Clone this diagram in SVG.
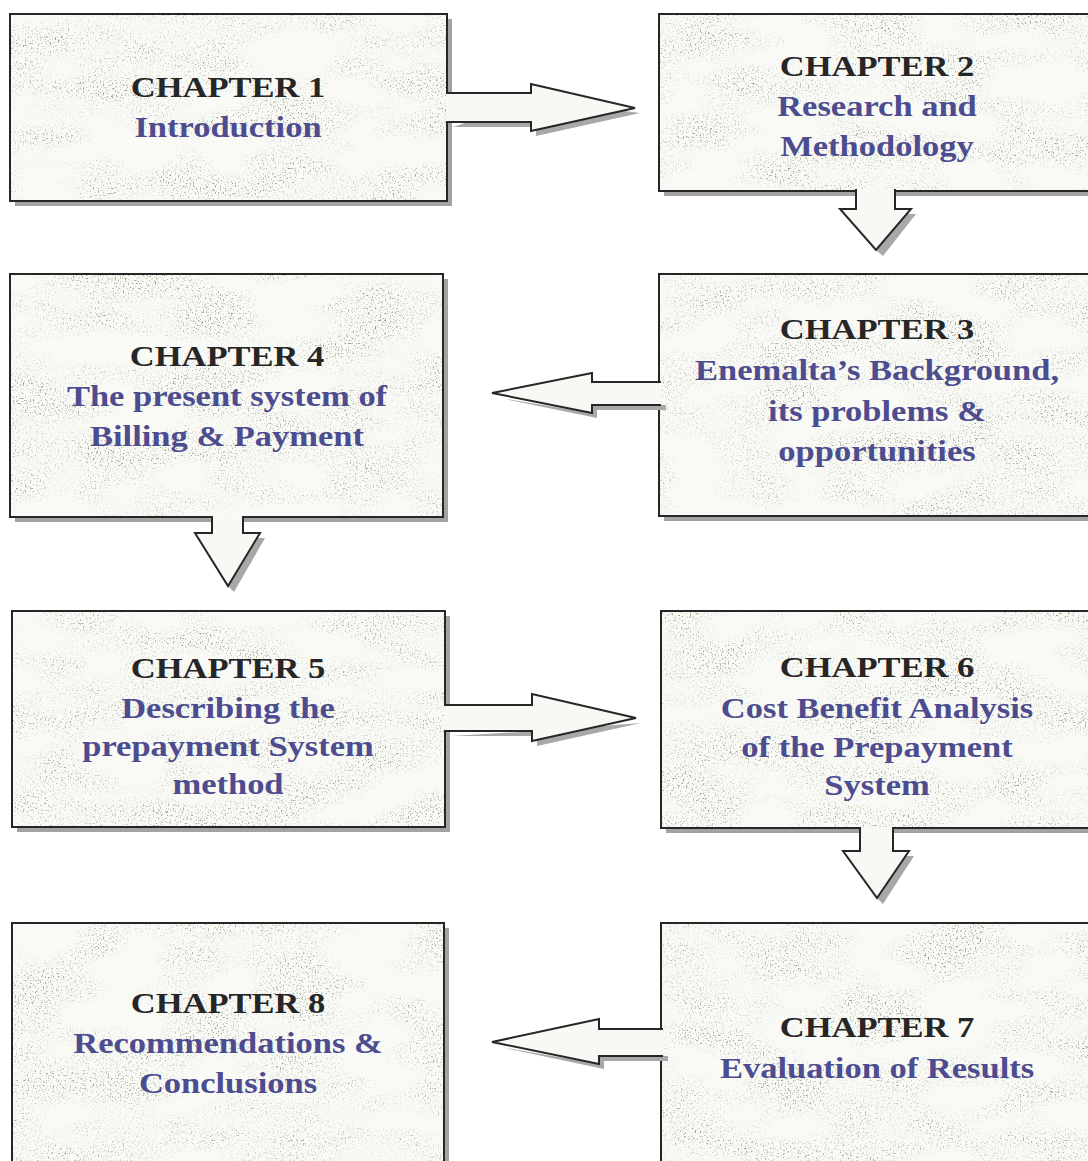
<svg xmlns="http://www.w3.org/2000/svg" width="1088" height="1161" viewBox="0 0 1088 1161">
<defs>
<style>
.shadow{fill:#a3a3a3;}
.box{fill:#f9f9f6;stroke:#262626;stroke-width:2;}
.tex{fill:#fff;filter:url(#marble);}
.arrow{fill:#f8f8f4;stroke:#262626;stroke-width:2;stroke-linejoin:miter;}
.ashadow{fill:#a8a8a8;}
.t1{font-family:"Liberation Serif","Times New Roman",serif;font-weight:bold;font-size:30px;fill:#262626;text-anchor:middle;}
.t2{font-family:"Liberation Serif","Times New Roman",serif;font-weight:bold;font-size:30px;fill:#4c4c8e;text-anchor:middle;}
</style>
<filter id="marble" x="0" y="0" width="100%" height="100%" color-interpolation-filters="sRGB">
<feTurbulence type="fractalNoise" baseFrequency="0.6" numOctaves="2" seed="4" result="n"/>
<feColorMatrix in="n" type="matrix" values="0 0 0 0 0.58  0 0 0 0 0.62  0 0 0 0 0.54  5 0 0 0 -2.85" result="sp"/>
<feTurbulence type="fractalNoise" baseFrequency="0.012 0.03" numOctaves="2" seed="9" result="b"/>
<feColorMatrix in="b" type="matrix" values="0 0 0 0 0  0 0 0 0 0  0 0 0 0 0  3 0 0 0 -1.1" result="bm"/>
<feComposite in="sp" in2="bm" operator="in" result="spm"/>
<feComposite in="spm" in2="SourceAlpha" operator="in"/>
</filter>
</defs>
<rect width="1088" height="1161" fill="#ffffff"/>

<g id="node1">
<rect class="shadow" x="15" y="19" width="437" height="187"/>
<rect class="box" x="10" y="14" width="437" height="187"/>
<rect class="tex" x="11" y="15" width="435" height="185"/>
<g transform="translate(228,0) scale(1.15,1)"><text class="t1" x="0" y="97">CHAPTER 1</text><text class="t2" x="0" y="137">Introduction</text></g>
</g>

<g id="node2">
<rect class="shadow" x="664" y="19" width="440" height="177"/>
<rect class="box" x="659" y="14" width="440" height="177"/>
<rect class="tex" x="660" y="15" width="438" height="175"/>
<g transform="translate(877,0) scale(1.15,1)"><text class="t1" x="0" y="76">CHAPTER 2</text><text class="t2" x="0" y="116">Research and</text><text class="t2" x="0" y="156">Methodology</text></g>
</g>

<g id="node3">
<rect class="shadow" x="664" y="279" width="440" height="242"/>
<rect class="box" x="659" y="274" width="440" height="242"/>
<rect class="tex" x="660" y="275" width="438" height="240"/>
<g transform="translate(877,0) scale(1.15,1)"><text class="t1" x="0" y="339">CHAPTER 3</text><text class="t2" x="0" y="380">Enemalta’s Background,</text><text class="t2" x="0" y="421">its problems &amp;</text><text class="t2" x="0" y="461">opportunities</text></g>
</g>

<g id="node4">
<rect class="shadow" x="15" y="279" width="433" height="243"/>
<rect class="box" x="10" y="274" width="433" height="243"/>
<rect class="tex" x="11" y="275" width="431" height="241"/>
<g transform="translate(227,0) scale(1.15,1)"><text class="t1" x="0" y="366">CHAPTER 4</text><text class="t2" x="0" y="406">The present system of</text><text class="t2" x="0" y="446">Billing &amp; Payment</text></g>
</g>

<g id="node5">
<rect class="shadow" x="17" y="616" width="433" height="216"/>
<rect class="box" x="12" y="611" width="433" height="216"/>
<rect class="tex" x="13" y="612" width="431" height="214"/>
<g transform="translate(228,0) scale(1.15,1)"><text class="t1" x="0" y="678">CHAPTER 5</text><text class="t2" x="0" y="718">Describing the</text><text class="t2" x="0" y="756">prepayment System</text><text class="t2" x="0" y="794">method</text></g>
</g>

<g id="node6">
<rect class="shadow" x="666" y="616" width="440" height="217"/>
<rect class="box" x="661" y="611" width="440" height="217"/>
<rect class="tex" x="662" y="612" width="438" height="215"/>
<g transform="translate(877,0) scale(1.15,1)"><text class="t1" x="0" y="677">CHAPTER 6</text><text class="t2" x="0" y="718">Cost Benefit Analysis</text><text class="t2" x="0" y="757">of the Prepayment</text><text class="t2" x="0" y="795">System</text></g>
</g>

<g id="node7">
<rect class="shadow" x="666" y="928" width="440" height="260"/>
<rect class="box" x="661" y="923" width="440" height="260"/>
<rect class="tex" x="662" y="924" width="438" height="258"/>
<g transform="translate(877,0) scale(1.15,1)"><text class="t1" x="0" y="1037">CHAPTER 7</text><text class="t2" x="0" y="1078">Evaluation of Results</text></g>
</g>

<g id="node8">
<rect class="shadow" x="17" y="928" width="432" height="260"/>
<rect class="box" x="12" y="923" width="432" height="260"/>
<rect class="tex" x="13" y="924" width="430" height="258"/>
<g transform="translate(228,0) scale(1.15,1)"><text class="t1" x="0" y="1013">CHAPTER 8</text><text class="t2" x="0" y="1053">Recommendations &amp;</text><text class="t2" x="0" y="1093">Conclusions</text></g>
</g>

<g id="connectors">
<path class="ashadow" d="M453,127 L536,127 L536,136 L640,113 L536,99 Z"/>
<path class="arrow" d="M446,93 L531,93 L531,84 L635,108 L531,131 L531,122 L446,122"/>
<path class="ashadow" d="M900,214 L916,214 L883,256 L876,250 Z"/>
<path class="arrow" d="M856,189 L856,209 L840,209 L876,250 L911,209 L895,209 L895,189"/>
<path class="ashadow" d="M500,398 L597,418 L597,410 L666,410 L666,405 L592,405 L592,413 Z"/>
<path class="arrow" d="M661,382 L592,382 L592,373 L492,393 L592,413 L592,405 L661,405"/>
<path class="ashadow" d="M248,538 L265,538 L234,592 L228,586 Z"/>
<path class="arrow" d="M212,516 L212,533 L195,533 L228,586 L260,533 L243,533 L243,516"/>
<path class="ashadow" d="M451,736 L537,736 L537,746 L641,723 L537,731 Z"/>
<path class="arrow" d="M444,705 L532,705 L532,694 L636,718 L532,741 L532,731 L444,731"/>
<path class="ashadow" d="M898,856 L914,856 L883,904 L877,898 Z"/>
<path class="arrow" d="M860,827 L860,851 L843,851 L877,898 L909,851 L893,851 L893,827"/>
<path class="ashadow" d="M500,1047 L604,1069 L604,1061 L668,1061 L668,1056 L599,1056 L599,1064 Z"/>
<path class="arrow" d="M663,1029 L599,1029 L599,1019 L492,1042 L599,1064 L599,1056 L663,1056"/>
</g>
</svg>
